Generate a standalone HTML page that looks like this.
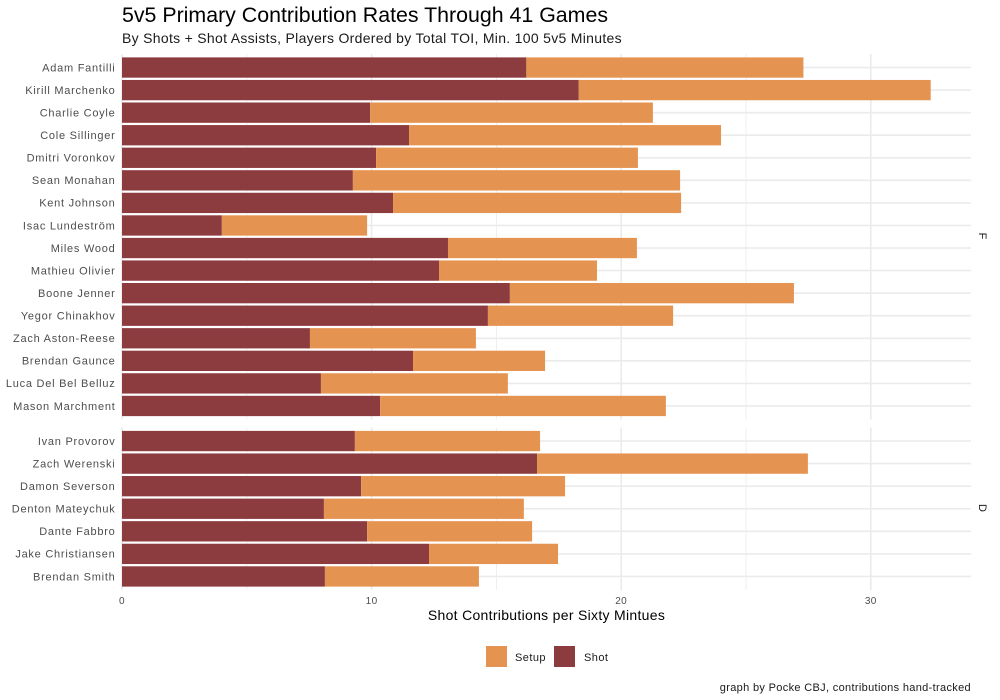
<!DOCTYPE html>
<html>
<head>
<meta charset="utf-8">
<title>5v5 Primary Contribution Rates</title>
<style>
html,body{margin:0;padding:0;background:#fff;width:1000px;height:700px;overflow:hidden}
svg{display:block}
text{font-family:"Liberation Sans",sans-serif}
</style>
</head>
<body>
<svg id="chart" width="1000" height="700" viewBox="0 0 1000 700" xmlns="http://www.w3.org/2000/svg">
  <rect x="0" y="0" width="1000" height="700" fill="#ffffff"/>
  <text x="122" y="22" font-size="21.35" fill="#000000">5v5 Primary Contribution Rates Through 41 Games</text>
  <text x="122" y="43" font-size="14" letter-spacing="0.3" fill="#1a1a1a">By Shots + Shot Assists, Players Ordered by Total TOI, Min. 100 5v5 Minutes</text>
  <g id="grid"></g>
  <g id="bars"></g>
  <g id="yLabels"></g>
  <g id="xLabels"></g>
  <text transform="translate(979,236) rotate(90)" text-anchor="middle" font-size="11" fill="#1a1a1a">F</text>
  <text transform="translate(979,508) rotate(90)" text-anchor="middle" font-size="11" fill="#1a1a1a">D</text>
  <text x="546.5" y="620" text-anchor="middle" font-size="14" letter-spacing="0.3" fill="#000000">Shot Contributions per Sixty Mintues</text>
  <g>
    <rect x="486" y="646" width="21" height="21" fill="#e59351"/>
    <text x="515" y="661" font-size="11" letter-spacing="0.45" fill="#1a1a1a">Setup</text>
    <rect x="554" y="646" width="21" height="21" fill="#8c3b3f"/>
    <text x="584" y="661" font-size="11" letter-spacing="0.45" fill="#1a1a1a">Shot</text>
  </g>
  <text x="971" y="691" text-anchor="end" font-size="11" letter-spacing="0.33" fill="#1a1a1a">graph by Pocke CBJ, contributions hand-tracked</text>
</svg>
<script>
const forwards = ["Adam Fantilli","Kirill Marchenko","Charlie Coyle","Cole Sillinger","Dmitri Voronkov","Sean Monahan","Kent Johnson","Isac Lundeström","Miles Wood","Mathieu Olivier","Boone Jenner","Yegor Chinakhov","Zach Aston-Reese","Brendan Gaunce","Luca Del Bel Belluz","Mason Marchment"];
const forwardShots = [16.2,18.3,9.94,11.5,10.18,9.25,10.86,4.0,13.06,12.7,15.54,14.66,7.53,11.66,7.97,10.34];
const forwardSetups = [11.1,14.1,11.33,12.5,10.49,13.11,11.54,5.82,7.57,6.33,11.38,7.42,6.65,5.29,7.49,11.45];
const defense = ["Ivan Provorov","Zach Werenski","Damon Severson","Denton Mateychuk","Dante Fabbro","Jake Christiansen","Brendan Smith"];
const defenseShots = [9.33,16.63,9.58,8.09,9.82,12.3,8.13];
const defenseSetups = [7.42,10.85,8.17,8.01,6.61,5.17,6.17];
const majorTicks = [0,10,20,30];
const minorTicks = [5,15,25];

const NS = "http://www.w3.org/2000/svg";
const x = v => 122 + v * 24.96;
const panelLeft = 122, panelRight = 971;
const colorShot = "#8c3b3f", colorSetup = "#e59351", colorGrid = "#ebebeb";
const gridG = document.getElementById("grid");
const barsG = document.getElementById("bars");
const yLabG = document.getElementById("yLabels");
const xLabG = document.getElementById("xLabels");

function make(tag, attrs, parent) {
  const el = document.createElementNS(NS, tag);
  for (const k in attrs) el.setAttribute(k, attrs[k]);
  parent.appendChild(el);
  return el;
}

function slug(s) {
  return s.normalize("NFD").replace(/[^A-Za-z ]/g, "").trim().toLowerCase().replace(/ +/g, "-");
}

function drawPanel(names, shots, setups, top, bottom) {
  const step = (bottom - top) / (names.length + 0.2);
  const y = i => top + step * (i + 0.6);
  const h = step * 0.9;
  minorTicks.forEach(t => {
    const l = make("line", {x1:x(t), x2:x(t), y1:top, y2:bottom, stroke:colorGrid, "stroke-width":0.8}, gridG);
    
    
  });
  majorTicks.forEach(t => {
    const l = make("line", {x1:x(t), x2:x(t), y1:top, y2:bottom, stroke:colorGrid, "stroke-width":1.6}, gridG);
    
    
  });
  names.forEach((n, i) => {
    const g = make("line", {x1:panelLeft, x2:panelRight, y1:y(i), y2:y(i), stroke:colorGrid, "stroke-width":1.6}, gridG);
    
    
    const key = slug(n);
    const a = make("rect", {x:x(0), y:y(i)-h/2, width:x(shots[i])-x(0), height:h, fill:colorShot}, barsG);
    
    
    const b = make("rect", {x:x(shots[i]), y:y(i)-h/2, width:x(shots[i]+setups[i])-x(shots[i]), height:h, fill:colorSetup}, barsG);
    
    
    const t = make("text", {x:115.5, y:y(i)+3.8, "text-anchor":"end", "font-size":11, "letter-spacing":0.75, fill:"#4d4d4d"}, yLabG);
    
    
    t.textContent = n;
  });
}

drawPanel(forwards, forwardShots, forwardSetups, 54, 419.5);
drawPanel(defense, defenseShots, defenseSetups, 427.5, 590);

majorTicks.forEach(t => {
  const l = make("text", {x:x(t), y:604, "text-anchor":"middle", "font-size":10, "letter-spacing":0.4, fill:"#4d4d4d"}, xLabG);
  
  
  l.textContent = t;
});
</script>
</body>
</html>
